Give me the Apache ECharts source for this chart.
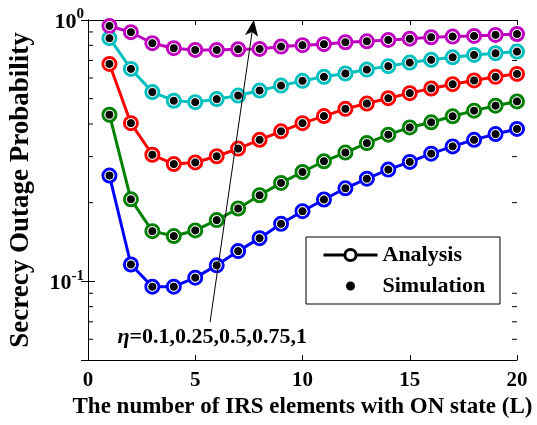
<!DOCTYPE html>
<html>
<head>
<meta charset="utf-8">
<title>Secrecy Outage Probability</title>
<script src="https://cdn.jsdelivr.net/npm/echarts@6/dist/echarts.min.js"></script>
<style>
  html, body { margin: 0; padding: 0; background: #fff; }
  #chart { width: 537px; height: 425px; }
</style>
</head>
<body>
<div id="chart"></div>
<script>
// L = 1..20
const L = [1, 2, 3, 4, 5, 6, 7, 8, 9, 10, 11, 12, 13, 14, 15, 16, 17, 18, 19, 20];

// secrecy outage probability per eta
const sop010 = [0.254, 0.116, 0.0954, 0.0954, 0.1033, 0.1151, 0.1305, 0.1463, 0.166, 0.1855,
                0.2056, 0.227, 0.247, 0.2676, 0.2864, 0.308, 0.3284, 0.348, 0.366, 0.383];
const sop025 = [0.434, 0.206, 0.1556, 0.149, 0.1566, 0.1715, 0.190, 0.2135, 0.238, 0.262,
                0.288, 0.311, 0.338, 0.364, 0.388, 0.406, 0.428, 0.450, 0.470, 0.488];
const sop050 = [0.679, 0.403, 0.305, 0.281, 0.285, 0.301, 0.322, 0.348, 0.375, 0.403,
                0.429, 0.457, 0.479, 0.502, 0.525, 0.547, 0.568, 0.587, 0.606, 0.622];
const sop075 = [0.852, 0.650, 0.530, 0.491, 0.485, 0.498, 0.514, 0.537, 0.561, 0.585,
                0.606, 0.624, 0.646, 0.666, 0.687, 0.704, 0.720, 0.735, 0.746, 0.757];
const sop100 = [0.949, 0.898, 0.815, 0.780, 0.768, 0.768, 0.773, 0.775, 0.791, 0.801,
                0.808, 0.822, 0.829, 0.839, 0.848, 0.859, 0.864, 0.869, 0.877, 0.884];

const curves = [sop010, sop025, sop050, sop075, sop100];
const colors = ["#0000FF", "#008000", "#FF0000", "#00BFBF", "#BF00BF"];

const xTicks = [0, 5, 10, 15, 20];
const yMinorTicks = [0.06, 0.07, 0.08, 0.09, 0.2, 0.3, 0.4, 0.5, 0.6, 0.7, 0.8, 0.9];

// arrow annotation, in data units
const arrowFrom = [5.69, 0.0698];
const arrowTo = [7.73, 1];
const etaText = "0.1,0.25,0.5,0.75,1";
const etaAt = [5.79, 0.0611];

const FONT = '"Liberation Serif", "Times New Roman", serif';

const chart = echarts.init(document.getElementById("chart"));

let series = [];
curves.forEach((vals, i) => {
  series.push({
    name: "Analysis",
    type: "line",
    data: L.map((l, k) => [l, vals[k]]),
    symbol: "circle",
    symbolSize: 13,
    lineStyle: { color: colors[i], width: 3 },
    itemStyle: { color: "#fff", borderColor: colors[i], borderWidth: 3 },
    z: 2,
    silent: true
  });
});
curves.forEach((vals) => {
  series.push({
    name: "Simulation",
    type: "scatter",
    data: L.map((l, k) => [l, vals[k]]),
    symbol: "circle",
    symbolSize: 9,
    itemStyle: { color: "#000", opacity: 1, borderColor: "#fff", borderWidth: 1 },
    z: 3,
    silent: true
  });
});

// minor ticks of the log axis, both sides, placed through the axis scale
series.push({
  type: "custom",
  silent: true,
  data: yMinorTicks.map(v => [0, v]),
  renderItem: function (params, api) {
    const l = api.coord([0, api.value(1)]);
    const r = api.coord([20, api.value(1)]);
    return {
      type: "group",
      children: [
        { type: "line", shape: { x1: l[0], y1: l[1], x2: l[0] + 5, y2: l[1] }, style: { stroke: "#000", lineWidth: 1 } },
        { type: "line", shape: { x1: r[0] - 5, y1: r[1], x2: r[0], y2: r[1] }, style: { stroke: "#000", lineWidth: 1 } }
      ]
    };
  },
  z: 1
});

// arrow and eta label
series.push({
  type: "scatter",
  data: [],
  silent: true,
  markLine: {
    silent: true,
    symbol: ["none", "arrow"],
    symbolSize: [10, 16],
    label: { show: false },
    lineStyle: { color: "#000", width: 1, type: "solid" },
    data: [[{ coord: arrowFrom }, { coord: arrowTo }]]
  },
  markPoint: {
    silent: true,
    symbol: "circle",
    symbolSize: 0,
    label: {
      show: true,
      position: "inside",
      formatter: "{e|η}{t|=" + etaText + "}",
      rich: {
        e: { fontFamily: FONT, fontWeight: "bold", fontStyle: "italic", fontSize: 22, color: "#000" },
        t: { fontFamily: FONT, fontWeight: "bold", fontSize: 22, color: "#000" }
      }
    },
    data: [{ coord: etaAt }]
  }
});

const axisText = { fontFamily: FONT, fontWeight: "bold", fontSize: 21, color: "#000" };
const legendText = { fontFamily: FONT, fontWeight: "bold", fontSize: 22, color: "#000" };

chart.setOption({
  animation: false,
  grid: { left: 86, right: 20, top: 20, bottom: 65 },
  legend: [
    {
      // box + Analysis row
      orient: "vertical",
      left: 306,
      top: 237,
      padding: [7, 38, 38, 16],
      itemWidth: 54,
      itemHeight: 14,
      backgroundColor: "#fff",
      borderColor: "#000",
      borderWidth: 1,
      borderRadius: 0,
      selectedMode: false,
      textStyle: legendText,
      data: [
        { name: "Analysis", itemStyle: { color: "#fff", borderColor: "#000", borderWidth: 3 }, lineStyle: { color: "#000", width: 3 } }
      ]
    },
    {
      // Simulation row, smaller dot
      orient: "vertical",
      left: 330,
      top: 275,
      padding: [0, 16, 0, 16],
      itemWidth: 54,
      itemHeight: 9,
      selectedMode: false,
      textStyle: legendText,
      data: [
        { name: "Simulation", icon: "circle", itemStyle: { color: "#000", borderWidth: 0 } }
      ]
    }
  ],
  xAxis: [
    {
      type: "value",
      min: 0,
      max: 20,
      interval: 5,
      name: "The number of IRS elements with ON state (L)",
      nameLocation: "middle",
      nameGap: 36,
      nameTextStyle: { fontFamily: FONT, fontWeight: "bold", fontSize: 23, color: "#000" },
      axisLine: { lineStyle: { color: "#000", width: 1 } },
      axisTick: { inside: true, length: 5, lineStyle: { color: "#000" } },
      axisLabel: Object.assign({ margin: 10, formatter: v => (xTicks.includes(v) ? String(v) : "") }, axisText),
      splitLine: { show: false }
    },
    {
      type: "value",
      position: "top",
      min: 0,
      max: 20,
      interval: 5,
      axisLine: { lineStyle: { color: "#000", width: 1 } },
      axisTick: { inside: true, length: 5, lineStyle: { color: "#000" } },
      axisLabel: { show: false },
      splitLine: { show: false }
    }
  ],
  yAxis: [
    {
      type: "log",
      logBase: 10,
      min: 0.05,
      max: 1,
      name: "Secrecy Outage Probability",
      nameLocation: "middle",
      nameGap: 53,
      nameTextStyle: { fontFamily: FONT, fontWeight: "bold", fontSize: 27, color: "#000" },
      axisLine: { show: true, lineStyle: { color: "#000", width: 1 } },
      axisTick: { inside: true, length: 7, lineStyle: { color: "#000" } },
      axisLabel: {
        margin: 4,
        formatter: function (v) {
          if (Math.abs(v - 1) < 1e-9) return "{b|10}{s|0}";
          if (Math.abs(v - 0.1) < 1e-9) return "{b|10}{s|-1}";
          return "";
        },
        rich: {
          b: { fontFamily: FONT, fontWeight: "bold", fontSize: 22, color: "#000", lineHeight: 26, verticalAlign: "bottom" },
          s: { fontFamily: FONT, fontWeight: "bold", fontSize: 15, color: "#000", lineHeight: 26, verticalAlign: "top" }
        }
      },
      splitLine: { show: false }
    },
    {
      type: "log",
      logBase: 10,
      position: "right",
      min: 0.05,
      max: 1,
      axisLine: { show: true, lineStyle: { color: "#000", width: 1 } },
      axisTick: { inside: true, length: 7, lineStyle: { color: "#000" } },
      axisLabel: { show: false },
      splitLine: { show: false }
    }
  ],
  series: series
});
</script>
</body>
</html>
